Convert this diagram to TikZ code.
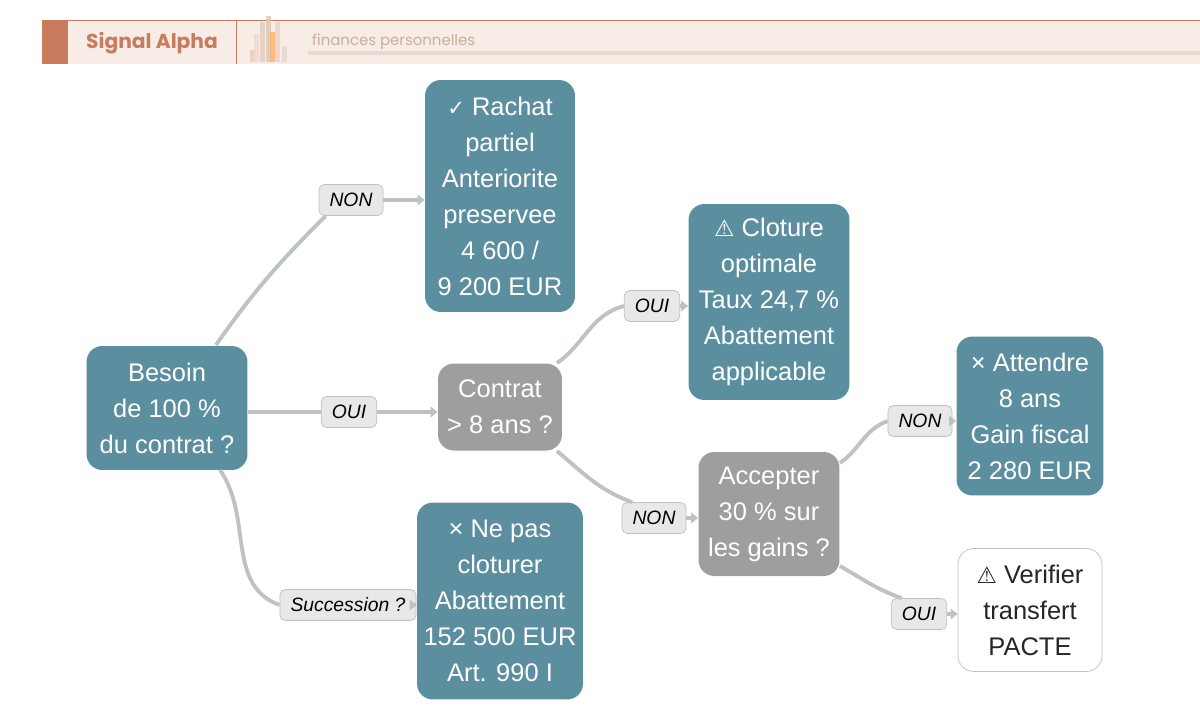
\documentclass[tikz,border=0pt]{standalone}
\usepackage{fontspec}
\setmainfont{Liberation Sans}
\newfontfamily\popfont{Poppins}
\newfontfamily\symfont{DejaVu Sans}
\usetikzlibrary{arrows.meta}
\definecolor{teal}{HTML}{5B8FA0}
\definecolor{grayq}{HTML}{9E9E9E}
\definecolor{edgec}{HTML}{BDC2C7}
\definecolor{hdrfill}{HTML}{F8ECE6}
\definecolor{hdrline}{HTML}{C97C5D}
\definecolor{hdrtan}{HTML}{C9AE98}
\newcommand{\okmark}{{\symfont\fontsize{12}{12}\selectfont ✓}}
\newcommand{\warnmark}{{\symfont\fontsize{13}{13}\selectfont ⚠}}
\tikzset{
  box/.style={rounded corners=9pt,align=center,text=white,font=\fontsize{14.5}{20.5}\selectfont,inner sep=0pt},
  action/.style={box,fill=teal},
  question/.style={box,fill=grayq},
  alert/.style={box,fill=white,draw=black!25,text=black!85},
  tag/.style={draw=black!25,fill=black!9,rounded corners=3pt,font=\fontsize{11}{11}\selectfont\itshape,minimum height=0.62cm,inner xsep=6pt},
  link/.style={draw=edgec,line width=2.2pt},
  tip/.style={draw=edgec,line width=2.2pt,-{Triangle[length=4pt,width=6pt]}}
}
\begin{document}
\begin{tikzpicture}[x=0.02cm,y=-0.02cm]
  \useasboundingbox (0,0) rectangle (1200,721);
  %en-tete
  \fill[hdrfill] (42,20) rectangle (1200,64);
  \draw[hdrline] (42,20.5) -- (1200,20.5);
  \fill[hdrline] (42,20) rectangle (68,64);
  \draw[hdrline] (236,20) -- (236,64);
  \node[text=hdrline,font=\popfont\bfseries\fontsize{11.5}{12}\selectfont] (brand) at (152,43) {Signal Alpha};
  \foreach \x/\h/\c in {250/12/hdrline!40,254/28/hdrline!30,260/40/hdrtan!60,266/46/hdrtan!70,270/30/orange!60,275/40/hdrline!35,282/16/hdrtan!50}
    \fill[\c,opacity=0.8] (\x,62) rectangle ++(5,-\h);
  \fill[hdrtan!45] (308,51) rectangle (1200,55);
  \node[anchor=west,text=hdrtan,font=\popfont\fontsize{8.5}{9}\selectfont] (sub) at (306,42) {finances personnelles};
  %noeuds
  \node[action,minimum width=3.22cm,minimum height=2.48cm] (besoin) at (167,408) {Besoin\\de 100 \%\\du contrat ?};
  \node[question,minimum width=2.48cm,minimum height=1.74cm] (contrat) at (500,407) {Contrat\\> 8 ans ?};
  \node[action,minimum width=3.0cm,minimum height=4.64cm] (rachat) at (500,196) {\okmark\ Rachat\\partiel\\Anteriorite\\preservee\\4 600 /\\9 200 EUR};
  \node[action,minimum width=3.22cm,minimum height=3.92cm] (cloture) at (769,302) {\warnmark\ Cloture\\optimale\\Taux 24,7 \%\\Abattement\\applicable};
  \node[question,minimum width=2.82cm,minimum height=2.48cm] (accepter) at (769,514) {Accepter\\30 \% sur\\les gains ?};
  \node[action,minimum width=2.94cm,minimum height=3.18cm] (attendre) at (1030,416) {× Attendre\\8 ans\\Gain fiscal\\2 280 EUR};
  \node[action,minimum width=3.32cm,minimum height=3.94cm] (nepas) at (500,601) {× Ne pas\\cloturer\\Abattement\\152 500 EUR\\Art. 990 I};
  \node[alert,minimum width=2.88cm,minimum height=2.46cm] (verifier) at (1030,610) {\warnmark\ Verifier\\transfert\\PACTE};
  %etiquettes
  \node[tag] (t1) at (351,200) {NON};
  \node[tag] (t2) at (349,412) {OUI};
  \node[tag] (t3) at (348,605) {Succession ?};
  \node[tag] (t4) at (652,306) {OUI};
  \node[tag] (t5) at (654,518) {NON};
  \node[tag] (t6) at (920,421) {NON};
  \node[tag] (t7) at (919,614) {OUI};
  %liens
  \draw[link] (216,345) to[out=55,in=-135] ([xshift=4]t1.south west);
  \draw[tip] (t1.east) -- (rachat.west|-t1.east);
  \draw[link] (besoin.east|-t2) -- (t2.west);
  \draw[tip] (t2.east) -- (contrat.west|-t2.east);
  \draw[link] (220,470) to[out=-55,in=160] (t3.west);
  \draw[tip] (t3.east) -- (nepas.west|-t3.east);
  \draw[link] (557,363) to[out=35,in=-165] (t4.west);
  \draw[tip] (t4.east) -- (cloture.west|-t4.east);
  \draw[link] (557,451) to[out=-40,in=160] ([xshift=6]t5.north west);
  \draw[tip] (t5.east) -- (accepter.west|-t5.east);
  \draw[link] (840,463) to[out=35,in=-160] (t6.west);
  \draw[tip] (t6.east) -- (attendre.west|-t6.east);
  \draw[link] (840,566) to[out=-30,in=160] ([xshift=6]t7.north west);
  \draw[tip] (t7.east) -- (verifier.west|-t7.east);
\end{tikzpicture}
\end{document}
